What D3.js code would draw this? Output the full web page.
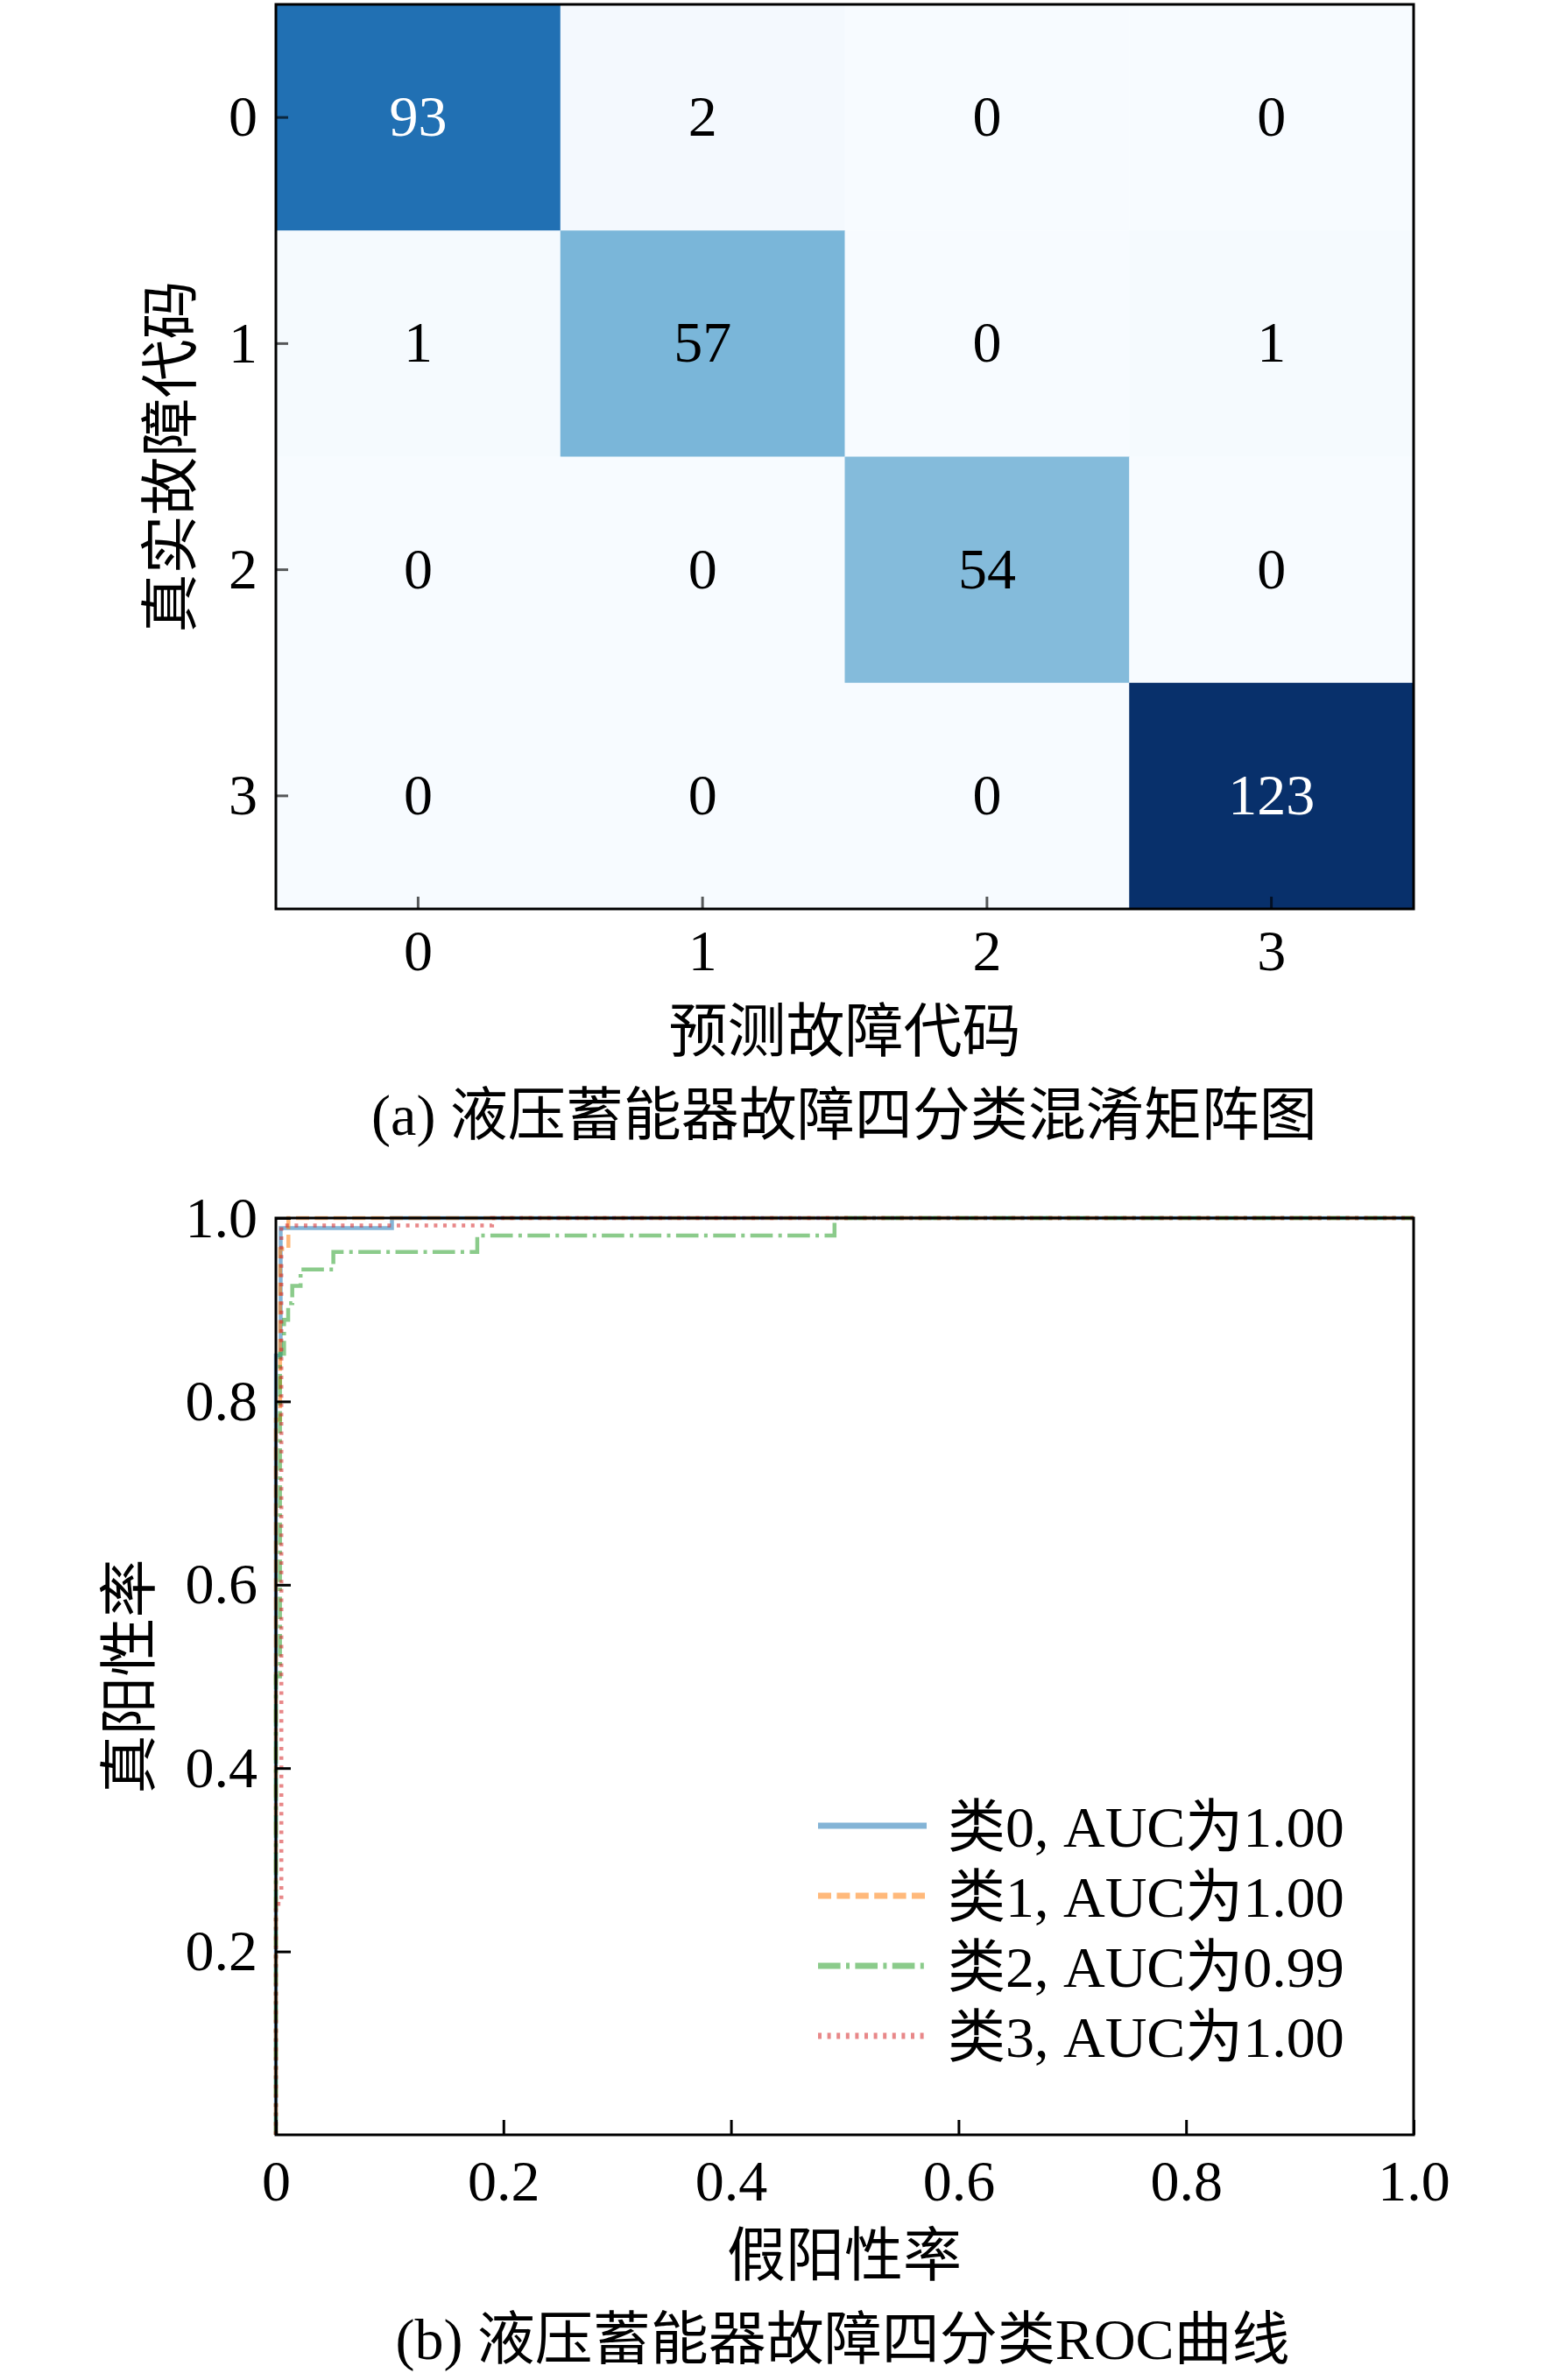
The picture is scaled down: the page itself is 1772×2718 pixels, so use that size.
<!DOCTYPE html>
<html lang="zh">
<head>
  <meta charset="UTF-8">
  <title>液压蓄能器故障四分类</title>
  <style>
    body {
      margin: 0;
      padding: 0;
      background: #fff;
    }
    svg text {
      font-family: "Liberation Serif", "Noto Sans CJK SC", serif;
      fill: #000;
    }
  </style>
</head>
<body>
  <svg id="chart" width="1772" height="2718"></svg>

  <script src="https://d3js.org/d3.v7.min.js"></script>
  <script>
    // confusion matrix: rows = true code, cols = predicted code
    const classes = ["0", "1", "2", "3"];
    const matrix = [
      [93, 2, 0, 0],
      [1, 57, 0, 1],
      [0, 0, 54, 0],
      [0, 0, 0, 123]
    ];

    // ROC curves, [fpr, tpr]
    const roc0 = [[0, 0], [0, 0.85], [0.0042, 0.85], [0.0042, 0.989], [0.102, 0.989], [0.102, 1], [1, 1]];
    const roc1 = [[0, 0], [0, 0.78], [0.0037, 0.78], [0.0037, 0.966], [0.011, 0.966], [0.011, 1], [1, 1]];
    const roc2 = [[0, 0], [0, 0.5], [0.0036, 0.5], [0.0036, 0.852], [0.0072, 0.852], [0.0072, 0.889],
      [0.0108, 0.889], [0.0108, 0.907], [0.0144, 0.907], [0.0144, 0.926], [0.0217, 0.926], [0.0217, 0.944],
      [0.0505, 0.944], [0.0505, 0.963], [0.177, 0.963], [0.177, 0.981], [0.491, 0.981], [0.491, 1], [1, 1]];
    const roc3 = [[0, 0], [0, 0.252], [0.0048, 0.252], [0.0048, 0.992], [0.19, 0.992], [0.19, 1], [1, 1]];
    const aucLabels = ["1.00", "1.00", "0.99", "1.00"];
    const rocXTicks = [0, 0.2, 0.4, 0.6, 0.8, 1.0];
    const rocYTicks = [0.2, 0.4, 0.6, 0.8, 1.0];

    const svg = d3.select("#chart");
    const fontSize = 66;
    const titleSize = 67;

    // ---------- (a) confusion matrix ----------
    const cm = { left: 315, right: 1614, top: 5, bottom: 1038 };

    const xBand = d3.scaleBand().domain(classes).range([cm.left, cm.right]);
    const yBand = d3.scaleBand().domain(classes).range([cm.top, cm.bottom]);
    const maxVal = d3.max(matrix.flat());
    const color = d3.scaleSequential(d3.interpolateBlues).domain([0, maxVal]);

    const cells = [];
    matrix.forEach((row, i) => row.forEach((v, j) => cells.push({ r: classes[i], c: classes[j], v: v })));

    const gCm = svg.append("g");
    gCm.selectAll("rect.cell")
      .data(cells)
      .enter()
      .append("rect")
      .attr("class", "cell")
      .attr("x", d => xBand(d.c))
      .attr("y", d => yBand(d.r))
      .attr("width", xBand.bandwidth() + 0.5)
      .attr("height", yBand.bandwidth() + 0.5)
      .attr("fill", d => color(d.v));

    gCm.selectAll("text.val")
      .data(cells)
      .enter()
      .append("text")
      .attr("class", "val")
      .attr("x", d => xBand(d.c) + xBand.bandwidth() / 2)
      .attr("y", d => yBand(d.r) + yBand.bandwidth() / 2)
      .attr("dy", "0.32em")
      .attr("text-anchor", "middle")
      .style("font-size", fontSize + "px")
      .style("fill", d => d.v > maxVal / 2 ? "#fff" : "#000")
      .text(d => d.v);

    // inward ticks
    const cmX = gCm.append("g")
      .attr("transform", `translate(0,${cm.bottom})`)
      .call(d3.axisBottom(xBand).tickSize(-14).tickPadding(0));
    cmX.select(".domain").remove();
    cmX.selectAll("line").attr("stroke", "#000").attr("stroke-opacity", 0.65).attr("stroke-width", 3);
    cmX.selectAll("text")
      .attr("y", 49)
      .attr("dy", "0.32em")
      .style("font-size", fontSize + "px")
      .style("font-family", null);

    const cmY = gCm.append("g")
      .attr("transform", `translate(${cm.left},0)`)
      .call(d3.axisLeft(yBand).tickSize(-14).tickPadding(21));
    cmY.select(".domain").remove();
    cmY.selectAll("line").attr("stroke", "#000").attr("stroke-opacity", 0.65).attr("stroke-width", 3);
    cmY.selectAll("text")
      .attr("dy", "0.32em")
      .style("font-size", fontSize + "px")
      .style("font-family", null);

    gCm.append("rect")
      .attr("x", cm.left)
      .attr("y", cm.top)
      .attr("width", cm.right - cm.left)
      .attr("height", cm.bottom - cm.top)
      .attr("fill", "none")
      .attr("stroke", "#000")
      .attr("stroke-width", 3);

    gCm.append("text")
      .attr("x", (cm.left + cm.right) / 2)
      .attr("y", 1177)
      .attr("dy", "0.36em")
      .attr("text-anchor", "middle")
      .style("font-size", titleSize + "px")
      .text("预测故障代码");

    gCm.append("text")
      .attr("transform", `translate(194,${(cm.top + cm.bottom) / 2}) rotate(-90)`)
      .attr("dy", "0.36em")
      .attr("text-anchor", "middle")
      .style("font-size", titleSize + "px")
      .text("真实故障代码");

    gCm.append("text")
      .attr("x", 964)
      .attr("y", 1272)
      .attr("dy", "0.36em")
      .attr("text-anchor", "middle")
      .style("font-size", "66px")
      .text("(a) 液压蓄能器故障四分类混淆矩阵图");

    // ---------- (b) ROC curves ----------
    const rc = { left: 315, right: 1614, top: 1391, bottom: 2438 };
    const x = d3.scaleLinear().domain([0, 1]).range([rc.left, rc.right]);
    const y = d3.scaleLinear().domain([0, 1]).range([rc.bottom, rc.top]);

    const series = [
      { data: roc0, color: "#1f77b4", dash: null },
      { data: roc1, color: "#ff7f0e", dash: "15,6.4" },
      { data: roc2, color: "#2ca02c", dash: "25.6,6.4,4,6.4" },
      { data: roc3, color: "#d62728", dash: "4,6.6" }
    ];

    const line = d3.line().x(d => x(d[0])).y(d => y(d[1]));
    const gRoc = svg.append("g");

    gRoc.selectAll("path.roc")
      .data(series)
      .enter()
      .append("path")
      .attr("class", "roc")
      .attr("d", d => line(d.data))
      .attr("fill", "none")
      .attr("stroke", d => d.color)
      .attr("stroke-opacity", 0.55)
      .attr("stroke-width", 4.5)
      .attr("stroke-dasharray", d => d.dash);

    const fmt = d => d === 0 ? "0" : d3.format(".1f")(d);

    const rocX = gRoc.append("g")
      .attr("transform", `translate(0,${rc.bottom})`)
      .call(d3.axisBottom(x).tickValues(rocXTicks).tickFormat(fmt).tickSize(-17));
    rocX.select(".domain").remove();
    rocX.selectAll("line").attr("stroke", "#000").attr("stroke-width", 3);
    rocX.selectAll("text")
      .attr("y", 54)
      .attr("dy", "0.32em")
      .style("font-size", fontSize + "px")
      .style("font-family", null);

    const rocY = gRoc.append("g")
      .attr("transform", `translate(${rc.left},0)`)
      .call(d3.axisLeft(y).tickValues(rocYTicks).tickFormat(fmt).tickSize(-17).tickPadding(21));
    rocY.select(".domain").remove();
    rocY.selectAll("line").attr("stroke", "#000").attr("stroke-width", 3);
    rocY.selectAll("text")
      .attr("dy", "0.32em")
      .style("font-size", fontSize + "px")
      .style("font-family", null);

    gRoc.append("rect")
      .attr("x", rc.left)
      .attr("y", rc.top)
      .attr("width", rc.right - rc.left)
      .attr("height", rc.bottom - rc.top)
      .attr("fill", "none")
      .attr("stroke", "#000")
      .attr("stroke-width", 3);

    // legend
    const legend = gRoc.append("g").attr("transform", "translate(934,2085)");
    const items = legend.selectAll("g.item")
      .data(series)
      .enter()
      .append("g")
      .attr("class", "item")
      .attr("transform", (d, i) => `translate(0,${i * 80})`);

    items.append("line")
      .attr("x1", 0)
      .attr("x2", 124)
      .attr("y1", 0)
      .attr("y2", 0)
      .attr("stroke", d => d.color)
      .attr("stroke-opacity", 0.55)
      .attr("stroke-width", 7)
      .attr("stroke-dasharray", d => d.dash);

    items.append("text")
      .attr("x", 148)
      .attr("dy", "0.36em")
      .style("font-size", fontSize + "px")
      .text((d, i) => `类${classes[i]}, AUC为${aucLabels[i]}`);

    gRoc.append("text")
      .attr("x", 964)
      .attr("y", 2575)
      .attr("dy", "0.36em")
      .attr("text-anchor", "middle")
      .style("font-size", titleSize + "px")
      .text("假阳性率");

    gRoc.append("text")
      .attr("transform", `translate(147,${(rc.top + rc.bottom) / 2}) rotate(-90)`)
      .attr("dy", "0.36em")
      .attr("text-anchor", "middle")
      .style("font-size", titleSize + "px")
      .text("真阳性率");

    gRoc.append("text")
      .attr("x", 962)
      .attr("y", 2670)
      .attr("dy", "0.36em")
      .attr("text-anchor", "middle")
      .style("font-size", "66px")
      .text("(b) 液压蓄能器故障四分类ROC曲线");
  </script>
</body>
</html>
